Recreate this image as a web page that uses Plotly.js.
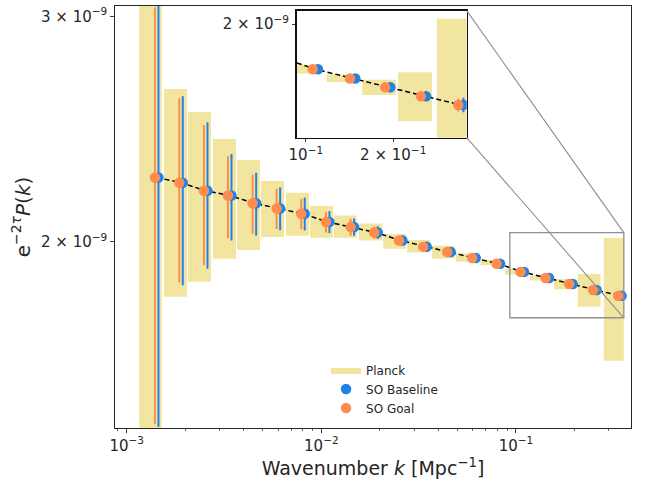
<!DOCTYPE html>
<html>
<head>
<meta charset="utf-8">
<script src="https://cdn.plot.ly/plotly-3.0.1.min.js"></script>
<style>html,body{margin:0;padding:0;background:#fff}#chart{width:655px;height:487px}</style>
</head>
<body>
<div id="chart"></div>
<script>
// ---- data (power in units of 1e-9) ----
const UNIT = 1e-9;
const kBins = [1.426e-3, 1.901e-3, 2.547e-3, 3.383e-3, 4.530e-3, 6.017e-3, 8.047e-3, 0.01078, 0.01443, 0.01909,
               0.02556, 0.03406, 0.04524, 0.06081, 0.08117, 0.1078, 0.1449, 0.1915, 0.2543, 0.3419];
const pFid = [2.245, 2.224, 2.192, 2.173, 2.143, 2.123, 2.103, 2.072, 2.053, 2.033,
              2.004, 1.982, 1.963, 1.942, 1.922, 1.894, 1.873, 1.853, 1.833, 1.814];
const baselineErr = [0.812, 0.375, 0.287, 0.169, 0.121, 0.082, 0.062, 0.041, 0.032, 0.023,
                     0.017, 0.014, 0.012, 0.010, 0.009, 0.008, 0.007, 0.008, 0.010, 0.016];
const goalErr = [0.805, 0.365, 0.275, 0.160, 0.114, 0.077, 0.057, 0.039, 0.031, 0.022,
                 0.016, 0.013, 0.011, 0.009, 0.008, 0.007, 0.006, 0.007, 0.009, 0.014];
const planckKlo = [1.161e-3, 1.555e-3, 2.064e-3, 2.774e-3, 3.684e-3, 4.895e-3, 6.579e-3, 8.739e-3, 1.161e-2, 1.560e-2,
                   2.079e-2, 2.762e-2, 3.700e-2, 4.912e-2, 6.579e-2, 8.770e-2, 0.1179, 0.1565, 0.2079, 0.2828];
const planckKhi = [1.513e-3, 2.040e-3, 2.710e-3, 3.641e-3, 4.837e-3, 6.425e-3, 8.635e-3, 1.147e-2, 1.518e-2, 2.055e-2,
                   2.719e-2, 3.613e-2, 4.837e-2, 6.425e-2, 8.596e-2, 0.1142, 0.1542, 0.2047, 0.2719, 0.3582];
const planckLo = [1.25, 1.811, 1.861, 1.939, 1.970, 2.017, 2.021, 2.014, 2.014, 2.004,
                  1.975, 1.961, 1.940, 1.929, 1.917, 1.884, 1.865, 1.836, 1.779, 1.614];
const planckHi = [3.24, 2.633, 2.526, 2.406, 2.317, 2.231, 2.184, 2.133, 2.096, 2.066,
                  2.028, 2.006, 1.985, 1.959, 1.935, 1.904, 1.882, 1.870, 1.887, 2.013];
const seriesNames = ['Planck', 'SO Baseline', 'SO Goal'];
const xTickVals = [1e-3, 1e-2, 1e-1];
const xTickText = ['10<sup>−3</sup>', '10<sup>−2</sup>', '10<sup>−1</sup>'];
const yTickVals = [2e-9, 3e-9];
const yTickText = ['2 × 10<sup>−9</sup>', '3 × 10<sup>−9</sup>'];
const insetXTickVals = [0.1, 0.2];
const insetXTickText = ['10<sup>−1</sup>', '2 × 10<sup>−1</sup>'];
const insetYTickVals = [2e-9];
const insetYTickText = ['2 × 10<sup>−9</sup>'];
// zoom window of the inset (k, and power in 1e-9)
const insetK = [0.0930, 0.3582];
const insetP = [1.7438, 2.0326];

// ---- styling ----
const BLUE = '#1f82e6', ORANGE = '#ff8c4f', KHAKI = '#f2e5a0';
const FONT = 'DejaVu Sans';
const dodge = 0.009; // decades, horizontal offset between the two SO series

const p = pFid.map(v => v * UNIT);
const kBase = kBins.map(k => k * Math.pow(10, dodge));
const kGoal = kBins.map(k => k * Math.pow(10, -dodge));

// planck boxes as one polygon trace
const bx = [], by = [];
for (let i = 0; i < planckKlo.length; i++) {
  bx.push(planckKlo[i], planckKhi[i], planckKhi[i], planckKlo[i], planckKlo[i], null);
  const lo = planckLo[i] * UNIT, hi = planckHi[i] * UNIT;
  by.push(lo, lo, hi, hi, lo, null);
}

function traces(xa, ya, legend) {
  return [
    {x: bx, y: by, xaxis: xa, yaxis: ya, type: 'scatter', mode: 'lines', fill: 'toself',
     fillcolor: KHAKI, line: {width: 0, color: KHAKI}, name: seriesNames[0], showlegend: legend, hoverinfo: 'skip'},
    {x: kBins, y: p, xaxis: xa, yaxis: ya, type: 'scatter', mode: 'lines',
     line: {color: '#000', width: 1.5, dash: '5px,3px'}, showlegend: false, hoverinfo: 'skip'},
    {x: kBase, y: p, xaxis: xa, yaxis: ya, type: 'scatter', mode: 'markers', name: seriesNames[1], showlegend: legend,
     marker: {color: BLUE, size: 10.5},
     error_y: {type: 'data', array: baselineErr.map(v => v * UNIT), color: BLUE, thickness: 2, width: 0}},
    {x: kGoal, y: p, xaxis: xa, yaxis: ya, type: 'scatter', mode: 'markers', name: seriesNames[2], showlegend: legend,
     marker: {color: ORANGE, size: 10.5},
     error_y: {type: 'data', array: goalErr.map(v => v * UNIT), color: ORANGE, thickness: 2, width: 0}}
  ];
}

const data = traces('x', 'y', true).concat(traces('x2', 'y2', false));

const xr = [-3.0601, -0.409];
const yr = [-8.8447, -8.5147];
const insetDomX = [0.3521, 0.6816];
const insetDomY = [0.6879, 0.9889];

// connector geometry in paper coordinates (from the axis ranges)
const toPx = k => (Math.log10(k) - xr[0]) / (xr[1] - xr[0]);
const toPy = v => (Math.log10(v * UNIT) - yr[0]) / (yr[1] - yr[0]);

const axisCommon = {
  showline: true, linecolor: '#262626', linewidth: 1.2, mirror: true, showgrid: false, zeroline: false,
  ticks: 'outside', ticklen: 3.5, tickwidth: 0.9, tickcolor: '#262626',
  tickfont: {family: FONT, size: 15, color: '#262626'}
};

const minorVals = [];
for (let d = -4; d <= 0; d++) for (let m = 2; m <= 9; m++) minorVals.push(m * Math.pow(10, d));

const layout = {
  width: 655, height: 487,
  margin: {l: 115, r: 24, t: 6, b: 59},
  paper_bgcolor: '#fff', plot_bgcolor: '#ffffff',
  font: {family: FONT, color: '#262626'},
  showlegend: true,
  legend: {x: 0.409, y: 0.172, xanchor: 'left', yanchor: 'top', bgcolor: 'rgba(0,0,0,0)',
           font: {family: FONT, size: 12, color: '#262626'}, tracegroupgap: 0},
  xaxis: Object.assign({}, axisCommon, {
    type: 'log', range: xr, domain: [0, 1], tickmode: 'array', tickvals: xTickVals, ticktext: xTickText,
    minor: {tickmode: 'array', tickvals: minorVals, ticks: 'outside', ticklen: 2, tickwidth: 0.7, tickcolor: '#262626', showgrid: false},
    title: {text: 'Wavenumber <i>k</i> [Mpc<sup>−1</sup>]', font: {family: FONT, size: 19, color: '#262626'}, standoff: 8}
  }),
  yaxis: Object.assign({}, axisCommon, {
    type: 'log', range: yr, domain: [0, 1], tickmode: 'array', tickvals: yTickVals, ticktext: yTickText,
    title: {text: 'e<sup>−2<i>τ</i></sup><i>P</i>(<i>k</i>)', font: {family: FONT, size: 20, color: '#262626'}, standoff: 5}
  }),
  xaxis2: Object.assign({}, axisCommon, {
    type: 'log', range: insetK.map(Math.log10), domain: insetDomX, anchor: 'y2',
    tickmode: 'array', tickvals: insetXTickVals, ticktext: insetXTickText, linecolor: '#111'
  }),
  yaxis2: Object.assign({}, axisCommon, {
    type: 'log', range: insetP.map(v => Math.log10(v * UNIT)), domain: insetDomY, anchor: 'x2',
    tickmode: 'array', tickvals: insetYTickVals, ticktext: insetYTickText, linecolor: '#111'
  }),
  shapes: [
    {type: 'rect', xref: 'x', yref: 'y', x0: insetK[0], x1: insetK[1], y0: insetP[0] * UNIT, y1: insetP[1] * UNIT,
     line: {color: '#8f8f8f', width: 1.3}, fillcolor: 'rgba(0,0,0,0)', layer: 'above'},
    {type: 'line', xref: 'paper', yref: 'paper', x0: toPx(insetK[1]), y0: toPy(insetP[1]), x1: insetDomX[1], y1: insetDomY[1],
     line: {color: '#8f8f8f', width: 1.1}, layer: 'above'},
    {type: 'line', xref: 'paper', yref: 'paper', x0: toPx(insetK[1]), y0: toPy(insetP[0]), x1: insetDomX[1], y1: insetDomY[0],
     line: {color: '#8f8f8f', width: 1.1}, layer: 'above'}
  ]
};

Plotly.newPlot('chart', data, layout, {displayModeBar: false, staticPlot: true});
</script>
</body>
</html>
